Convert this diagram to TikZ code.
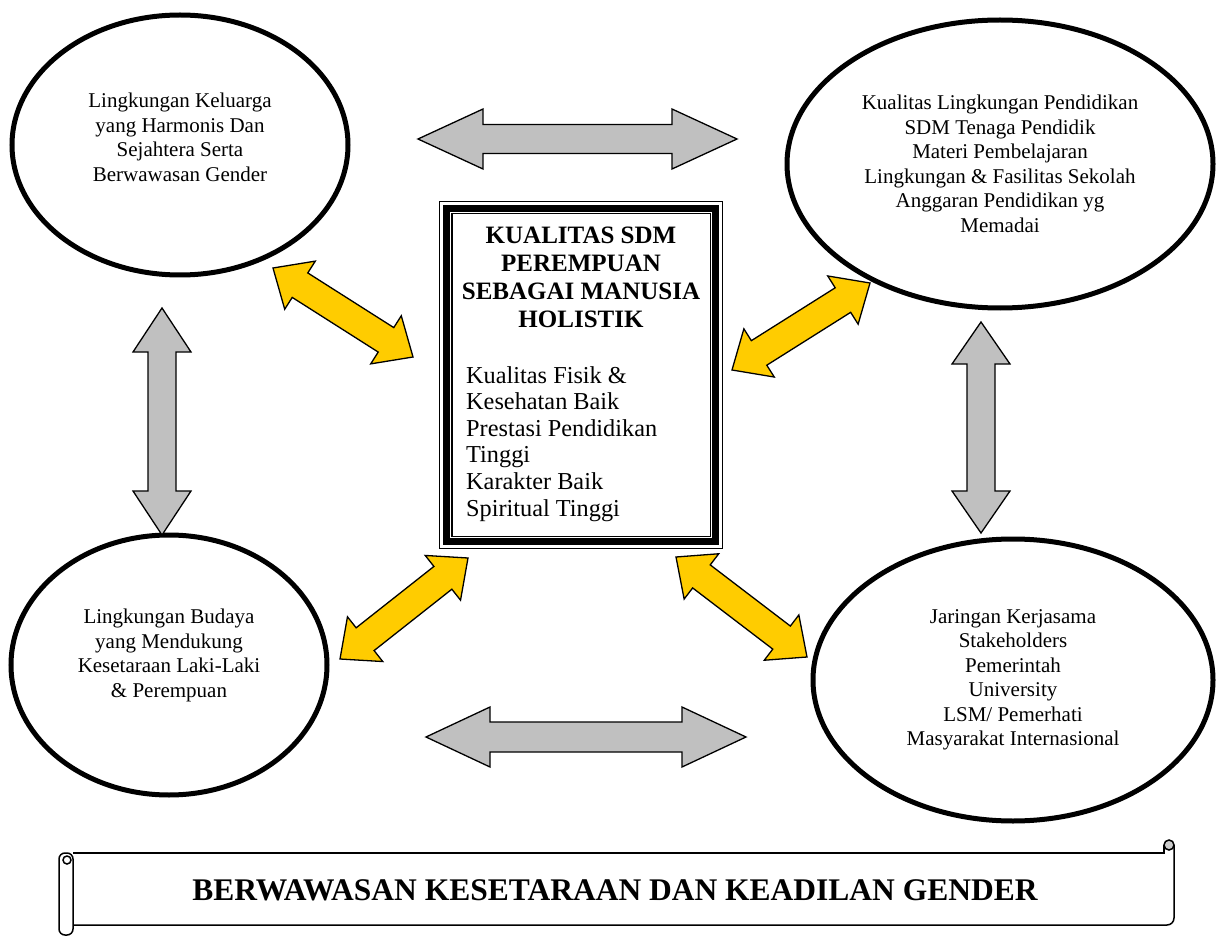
\documentclass[tikz,border=0pt]{standalone}
\usepackage{fontspec}
\setmainfont{Liberation Serif}
\usetikzlibrary{shapes.geometric,calc}

\definecolor{arrowgray}{HTML}{C0C0C0}
\definecolor{arrowgold}{HTML}{FFCC00}

\tikzset{
  ring/.style={ellipse, draw, line width=5pt, align=center, inner sep=0pt, font=\fontsize{21}{24.5}\selectfont},
  grayarrow/.style={draw, line width=1.3pt, fill=arrowgray, line join=miter},
  goldarrow/.style={draw, line width=1.3pt, fill=arrowgold, line join=miter},
  banner/.style={draw, line width=1.5pt}
}

% #1 style, #2 #3 tips, #4 half shaft, #5 half head, #6 head length
\newcommand{\twoway}[6]{
  \coordinate (hA) at ($(#2)!#6!(#3)$);
  \coordinate (hB) at ($(#3)!#6!(#2)$);
  \path[#1] (#2) -- ($(hA)!#5!90:(#3)$) -- ($(hA)!#4!90:(#3)$) -- ($(hB)!#4!-90:(#2)$) -- ($(hB)!#5!-90:(#2)$)
    -- (#3) -- ($(hB)!#5!90:(#2)$) -- ($(hB)!#4!90:(#2)$) -- ($(hA)!#4!-90:(#3)$) -- ($(hA)!#5!-90:(#3)$) -- cycle;
}

\begin{document}
\begin{tikzpicture}[x=1pt, y=-1pt]
\useasboundingbox (0,0) rectangle (1219,936);

% ellipses
\node[ring, minimum width=336pt, minimum height=260pt, text depth=16pt] (family) at (180,145) {Lingkungan Keluarga\\yang Harmonis Dan\\Sejahtera Serta\\Berwawasan Gender};
\node[ring, minimum width=426pt, minimum height=288pt] (school) at (1000,164) {Kualitas Lingkungan Pendidikan\\SDM Tenaga Pendidik\\Materi Pembelajaran\\Lingkungan \& Fasilitas Sekolah\\Anggaran Pendidikan yg\\Memadai};
\node[ring, minimum width=316pt, minimum height=260pt, text depth=24pt] (culture) at (169,665) {Lingkungan Budaya\\yang Mendukung\\Kesetaraan Laki-Laki\\\& Perempuan};
\node[ring, minimum width=400pt, minimum height=282pt] (network) at (1013,680) {Jaringan Kerjasama\\Stakeholders\\Pemerintah\\University\\LSM/ Pemerhati\\Masyarakat Internasional};

% center box
\node[draw, line width=1.3pt, minimum width=283pt, minimum height=347pt, inner sep=0pt] (core) at (581,375) {};
\path[draw, line width=7pt] ($(core.north west)+(7.5,7.5)$) rectangle ($(core.south east)+(-7.5,-7.5)$);
\path[draw, line width=1.3pt] ($(core.north west)+(13,13)$) rectangle ($(core.south east)+(-13,-13)$);
\node[font=\bfseries\fontsize{25}{27.8}\selectfont, align=center, anchor=north, inner sep=0pt] (coretitle) at (581,227) {KUALITAS SDM\\PEREMPUAN\\SEBAGAI MANUSIA\\HOLISTIK};
\node[font=\fontsize{24.3}{26.6}\selectfont, align=left, anchor=north west, inner sep=0pt] (corebody) at (466,366) {Kualitas Fisik \&\\Kesehatan Baik\\Prestasi Pendidikan\\Tinggi\\Karakter Baik\\Spiritual Tinggi};

% arrow ends
\coordinate (topL) at (418,139);   \coordinate (topR) at (737,139);
\coordinate (botL) at (426,737);   \coordinate (botR) at (746,737);
\coordinate (leftT) at (162,308);  \coordinate (leftB) at (162,535);
\coordinate (rightT) at (981,322); \coordinate (rightB) at (981,533);
\coordinate (famA) at (273,268);   \coordinate (famB) at (413,357);
\coordinate (schA) at (870,283);   \coordinate (schB) at (732,370);
\coordinate (culA) at (468,558);   \coordinate (culB) at (340,659);
\coordinate (netA) at (676,557);   \coordinate (netB) at (807,657);

% gray arrows
\twoway{grayarrow}{topL}{topR}{14.5pt}{30pt}{65pt}
\twoway{grayarrow}{botL}{botR}{15pt}{30pt}{64pt}
\twoway{grayarrow}{leftT}{leftB}{14pt}{29pt}{44pt}
\twoway{grayarrow}{rightT}{rightB}{14pt}{29pt}{42pt}

% yellow arrows
\twoway{goldarrow}{famA}{famB}{14.5pt}{28.5pt}{32pt}
\twoway{goldarrow}{schA}{schB}{14.5pt}{28.5pt}{32pt}
\twoway{goldarrow}{culA}{culB}{14.5pt}{28.5pt}{32pt}
\twoway{goldarrow}{netA}{netB}{14.5pt}{28.5pt}{32pt}

% scroll
\path[banner] (73,853) -- (1164,853) -- (1164,845);
\path[banner, rounded corners=7] (1174,845) -- (1174,925) -- (73,925);
\path[banner, fill=gray!40] (1169,845) circle (5);
\path[banner, fill=white, rounded corners=6] (59,853) rectangle (73,935);
\path[banner] (67,860) circle (4);
\node[font=\bfseries\fontsize{31.5}{34}\selectfont, inner sep=0pt] (motto) at (615,890) {BERWAWASAN KESETARAAN DAN KEADILAN GENDER};
\end{tikzpicture}
\end{document}
